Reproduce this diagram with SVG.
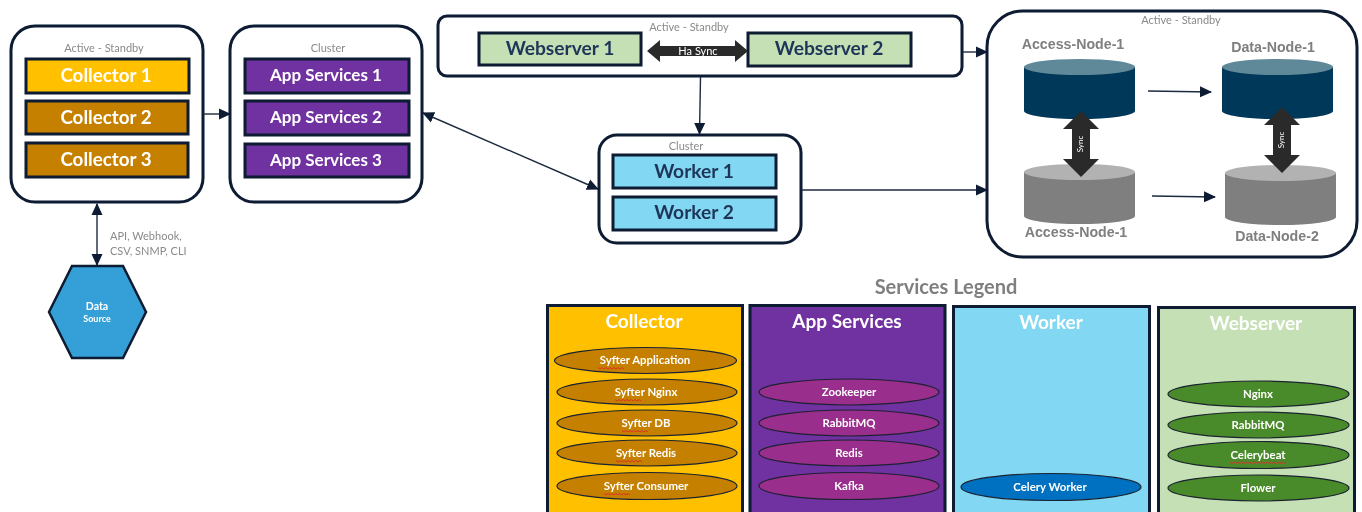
<svg xmlns="http://www.w3.org/2000/svg" width="1362" height="512" viewBox="0 0 1362 512">
<style>
text{font-family:"Lato","Open Sans","Liberation Sans",sans-serif;text-anchor:middle}
.c{fill:#fff;stroke:#0d1a30;stroke-width:3}
.b{stroke:#0d1a30;stroke-width:3}
.t{font-weight:700;font-size:18.800px;fill:#fff}
.a{font-weight:700;font-size:17px;fill:#fff}
.d{font-weight:700;font-size:19.200px;fill:#1f3558}
.s{font-size:11px;fill:#8a8a8a}
.n{font-family:"Liberation Sans",sans-serif;font-weight:700;font-size:14.200px;fill:#7f7f7f}
.h{font-weight:700;font-size:19px;fill:#fff}
.e{font-weight:700;font-size:11.400px;fill:#fff}
.l{stroke:#1c2a40;stroke-width:1.4;fill:none}
.el{stroke:#1c2430;stroke-width:1.2}
.sq{fill:none;stroke:#e0302a;stroke-width:1}
</style>
<defs>
<marker id="a" markerWidth="12" markerHeight="12" refX="11" refY="6" orient="auto-start-reverse" markerUnits="userSpaceOnUse"><path d="M0 0.500L12 6L0 11.500Z" fill="#0d1a30"/></marker>
<filter id="soft" filterUnits="userSpaceOnUse" x="0" y="0" width="1362" height="512"><feGaussianBlur stdDeviation="0.45"/></filter>
</defs>
<rect width="1362" height="512" fill="#fff"/>
<g filter="url(#soft)">
<g id="collectors">
<rect class="c" x="11" y="26" width="192" height="176" rx="24"/>
<text class="s" x="104" y="52">Active - Standby</text>
<rect class="b" x="26" y="59" width="163" height="34" fill="#ffc000"/><text class="t" x="106" y="82">Collector 1</text>
<rect class="b" x="26" y="101" width="162" height="33" fill="#c58000"/><text class="t" x="106" y="124">Collector 2</text>
<rect class="b" x="26" y="143" width="162" height="34" fill="#c58000"/><text class="t" x="106" y="166">Collector 3</text>
</g>
<g id="app-services">
<rect class="c" x="230" y="26" width="192" height="176" rx="24"/>
<text class="s" x="328" y="52">Cluster</text>
<rect class="b" x="245" y="59" width="164" height="34" fill="#7030a0"/><text class="a" x="326" y="81">App Services 1</text>
<rect class="b" x="245" y="101" width="164" height="34" fill="#7030a0"/><text class="a" x="326" y="123">App Services 2</text>
<rect class="b" x="245" y="144" width="164" height="33" fill="#7030a0"/><text class="a" x="326" y="166">App Services 3</text>
</g>
<g id="data-source">
<path d="M49 312L72 266H123L146 312L123 358H72Z" fill="#35a0d8" stroke="#0d1a30" stroke-width="2.5"/>
<text x="97" y="310" font-weight="700" font-size="10.500px" fill="#fff">Data</text><text x="97" y="322" font-weight="700" font-size="9px" fill="#fff">Source</text>
</g>
<g id="webservers">
<rect class="c" x="438" y="16" width="524" height="60" rx="9"/>
<text class="s" x="689" y="31">Active - Standby</text>
<rect class="b" x="479" y="33" width="162" height="32" fill="#c5e0b4"/><text class="d" x="560" y="55">Webserver 1</text>
<rect class="b" x="748" y="33" width="163" height="33" fill="#c5e0b4"/><text class="d" x="829" y="55">Webserver 2</text>
<path id="ha" d="M647 51L660 40V46H735V40L748 51L735 62V56H660V62Z" fill="#2b2b2b"/>
<text x="698" y="55" font-size="11px" fill="#fff">Ha Sync</text>
</g>
<g id="workers">
<rect class="c" x="599" y="135" width="202" height="108" rx="18"/>
<text class="s" x="686" y="150">Cluster</text>
<rect class="b" x="613" y="155" width="163" height="33" fill="#82d8f2"/><text class="d" x="694" y="178">Worker 1</text>
<rect class="b" x="613" y="197" width="163" height="33" fill="#82d8f2"/><text class="d" x="694" y="219">Worker 2</text>
</g>
<g id="database-cluster">
<rect class="c" x="987" y="11" width="370" height="246" rx="36"/>
<text class="s" x="1181" y="24">Active - Standby</text>
<text class="n" x="1073" y="49">Access-Node-1</text>
<text class="n" x="1273" y="52">Data-Node-1</text>
<text class="n" x="1076" y="237">Access-Node-1</text>
<text class="n" x="1277" y="241">Data-Node-2</text>
<path d="M1024 67V111A55.500 8 0 0 0 1135 111V67Z" fill="#02385a"/><ellipse cx="1079.500" cy="67" rx="55.500" ry="8" fill="#5f8898"/>
<path d="M1222 67V111A55.500 8 0 0 0 1333 111V67Z" fill="#02385a"/><ellipse cx="1277.500" cy="67" rx="55.500" ry="8" fill="#5f8898"/>
<path d="M1024 172V216A55.500 8 0 0 0 1135 216V172Z" fill="#7f7f7f"/><ellipse cx="1079.500" cy="172" rx="55.500" ry="8" fill="#b2b2b2"/>
<path d="M1225 173V217A55.500 8 0 0 0 1336 217V173Z" fill="#7f7f7f"/><ellipse cx="1280.500" cy="173" rx="55.500" ry="8" fill="#b2b2b2"/>
<path d="M1081 111L1099 129H1090V159H1099L1081 177L1063 159H1072V129H1063Z" fill="#2b2b2b"/>
<path d="M1282 107L1300 125H1291V155H1300L1282 173L1264 155H1273V125H1264Z" fill="#2b2b2b"/>
<text transform="translate(1083 144) rotate(-90)" font-size="8px" fill="#fff">Sync</text>
<text transform="translate(1284 140) rotate(-90)" font-size="8px" fill="#fff">Sync</text>
</g>
<g id="connectors">
<path class="l" d="M203 114H230" marker-end="url(#a)"/>
<path class="l" d="M97 204V265" marker-start="url(#a)" marker-end="url(#a)"/>
<path class="l" d="M962 52H987" marker-end="url(#a)"/>
<path class="l" d="M801 190H987" marker-end="url(#a)"/>
<path class="l" d="M700.500 77L699.500 134" marker-end="url(#a)"/>
<path class="l" d="M423 113L598 189" marker-start="url(#a)" marker-end="url(#a)"/>
<path class="l" d="M1148 91L1211 92" marker-end="url(#a)"/>
<path class="l" d="M1152 196L1215 197" marker-end="url(#a)"/>
</g>
<g id="protocols">
<text class="s" x="110" y="240" style="text-anchor:start">API, Webhook,</text>
<text class="s" x="110" y="255" style="text-anchor:start">CSV, SNMP, CLI</text>
</g>
<g id="legend">
<text x="946" y="294" font-weight="700" font-size="20px" fill="#7f7f7f">Services Legend</text>
</g>
<g id="legend-collector">
<rect class="b" x="547.500" y="305.500" width="195" height="210" fill="#ffc000"/>
<text class="h" x="644" y="328">Collector</text>
<ellipse class="el" cx="645.500" cy="360.500" rx="91" ry="13" fill="#c58000"/><text class="e" x="645" y="364">Syfter Application</text>
<ellipse class="el" cx="647" cy="392" rx="90" ry="13" fill="#c58000"/><text class="e" x="646" y="396">Syfter Nginx</text>
<ellipse class="el" cx="647" cy="423" rx="90" ry="13" fill="#c58000"/><text class="e" x="646" y="427">Syfter DB</text>
<ellipse class="el" cx="647" cy="453" rx="90" ry="13" fill="#c58000"/><text class="e" x="646" y="457">Syfter Redis</text>
<ellipse class="el" cx="647" cy="486" rx="90" ry="13.500" fill="#c58000"/><text class="e" x="646" y="490">Syfter Consumer</text>
<path class="sq" d="M598 367.500l2 1.500 2-1.500 2 1.500 2-1.500 2 1.500 2-1.500 2 1.500 2-1.500 2 1.500 2-1.500 2 1.500 2-1.500 2 1.500"/>
<path class="sq" d="M615 399.500l2 1.500 2-1.500 2 1.500 2-1.500 2 1.500 2-1.500 2 1.500 2-1.500 2 1.500 2-1.500 2 1.500 2-1.500 2 1.500"/>
<path class="sq" d="M622 430.500l2 1.500 2-1.500 2 1.500 2-1.500 2 1.500 2-1.500 2 1.500 2-1.500 2 1.500 2-1.500 2 1.500 2-1.500 2 1.500"/>
<path class="sq" d="M616 460.500l2 1.500 2-1.500 2 1.500 2-1.500 2 1.500 2-1.500 2 1.500 2-1.500 2 1.500 2-1.500 2 1.500 2-1.500 2 1.500"/>
<path class="sq" d="M604 493.500l2 1.500 2-1.500 2 1.500 2-1.500 2 1.500 2-1.500 2 1.500 2-1.500 2 1.500 2-1.500 2 1.500 2-1.500 2 1.500"/>
</g>
<g id="legend-app-services">
<rect class="b" x="750" y="305.500" width="195" height="210" fill="#7030a0"/>
<text class="h" x="847" y="328">App Services</text>
<ellipse class="el" cx="849" cy="392" rx="90" ry="13" fill="#992d8c"/><text class="e" x="849" y="396">Zookeeper</text>
<ellipse class="el" cx="849" cy="423" rx="90" ry="13" fill="#992d8c"/><text class="e" x="849" y="427">RabbitMQ</text>
<ellipse class="el" cx="849" cy="453" rx="90" ry="13" fill="#992d8c"/><text class="e" x="849" y="457">Redis</text>
<ellipse class="el" cx="849" cy="486" rx="90" ry="13.500" fill="#992d8c"/><text class="e" x="849" y="490">Kafka</text>
</g>
<g id="legend-worker">
<rect class="b" x="953.500" y="306.500" width="196" height="209" fill="#82d8f2"/>
<text class="h" x="1051" y="329">Worker</text>
<ellipse class="el" cx="1051" cy="487" rx="90" ry="13.500" fill="#0070c0"/><text class="e" x="1050" y="491">Celery Worker</text>
</g>
<g id="legend-webserver">
<rect class="b" x="1158.500" y="307.500" width="196" height="208" fill="#c5e0b4"/>
<text class="h" x="1256" y="330">Webserver</text>
<ellipse class="el" cx="1258.500" cy="394" rx="90.500" ry="13" fill="#4a8a2a"/><text class="e" x="1258" y="398">Nginx</text>
<ellipse class="el" cx="1258.500" cy="425" rx="90.500" ry="13" fill="#4a8a2a"/><text class="e" x="1258" y="429">RabbitMQ</text>
<ellipse class="el" cx="1258.500" cy="455" rx="90.500" ry="13.500" fill="#4a8a2a"/><text class="e" x="1258" y="459">Celerybeat</text>
<ellipse class="el" cx="1258.500" cy="488" rx="90.500" ry="13" fill="#4a8a2a"/><text class="e" x="1258" y="492">Flower</text>
<path class="sq" d="M1230 462l2 1.500 2-1.500 2 1.500 2-1.500 2 1.500 2-1.500 2 1.500 2-1.500 2 1.500 2-1.500 2 1.500 2-1.500 2 1.500 2-1.500 2 1.500 2-1.500 2 1.500 2-1.500 2 1.500 2-1.500 2 1.500 2-1.500 2 1.500 2-1.500 2 1.500 2-1.500 2 1.500 2-1.500"/>
</g>
</g>
</svg>
